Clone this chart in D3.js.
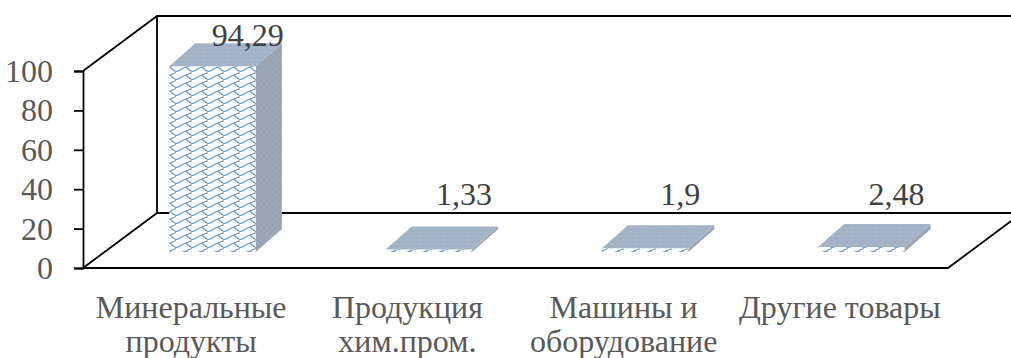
<!DOCTYPE html>
<html>
<head>
<meta charset="utf-8">
<script src="https://cdn.jsdelivr.net/npm/d3@7"></script>
</head>
<body style="margin:0">
<svg id="chart" width="1011" height="358" font-family="Liberation Serif" style="display:block"></svg>
<script>
// Export structure, % of total
const categories = ["Минеральные продукты", "Продукция хим.пром.", "Машины и оборудование", "Другие товары"];
const categoryLines = [["Минеральные", "продукты"], ["Продукция", "хим.пром."], ["Машины и", "оборудование"], ["Другие товары"]];
const values = [94.29, 1.33, 1.9, 2.48];
const tickValues = [0, 20, 40, 60, 80, 100];

const FS = 32;
const svg = d3.select("#chart");

// Front plane of the 3D box
const x0 = 83, x1 = 948, yZero = 268, yTop = 71;
// Full depth of the floor (oblique offset)
const depth = { dx: 74, dy: -55 };
// Bars sit a little behind the front edge and have their own depth
const barFront = { dx: 21.5, dy: -16 };
const barDepth = { dx: 26, dy: -23 };

const x = d3.scaleBand().domain(categories).range([x0, x1]).padding(0);
const y = d3.scaleLinear().domain([0, 100]).range([yZero, yTop]);

const ru = d3.formatLocale({ decimal: ",", thousands: " ", grouping: [3], currency: ["", ""] });
const fmt = ru.format(".4~g");

// ---- fill patterns ----
const defs = svg.append("defs");

const pFront = defs.append("pattern").attr("id", "pFront")
  .attr("patternUnits", "userSpaceOnUse").attr("width", 16).attr("height", 8);
pFront.append("rect").attr("width", 16).attr("height", 8).attr("fill", "#ffffff");
pFront.append("path")
  .attr("d", "M0,7.5 C4,7.5 6,4 10,3 C13,2.2 15,1 16,0.5 M10,3 C12,5 14,7 16,7.5")
  .attr("fill", "none").attr("stroke", "#5d9ad6").attr("stroke-width", 1.1);

const pTop = defs.append("pattern").attr("id", "pTop")
  .attr("patternUnits", "userSpaceOnUse").attr("width", 6).attr("height", 4);
pTop.append("rect").attr("width", 6).attr("height", 4).attr("fill", "#aeb7c2");
pTop.append("path").attr("d", "M0,3.5 L3,0.5 M3,3.5 L6,0.5")
  .attr("stroke", "#7aa6d6").attr("stroke-width", 0.9);

const pSide = defs.append("pattern").attr("id", "pSide")
  .attr("patternUnits", "userSpaceOnUse").attr("width", 6).attr("height", 6);
pSide.append("rect").attr("width", 6).attr("height", 6).attr("fill", "#a3a7ad");
pSide.append("path").attr("d", "M0,6 L6,0 M0,0 L6,6")
  .attr("stroke", "#89a3c4").attr("stroke-width", 1);

// ---- walls and floor ----
const frame = svg.append("g")
  .attr("fill", "none").attr("stroke", "#000").attr("stroke-width", 1.8);

const bx0 = x0 + depth.dx, bx1 = x1 + depth.dx;
const byZero = yZero + depth.dy, byTop = yTop + depth.dy;

frame.append("path").attr("d", [
  // back wall
  `M${bx1},${byTop} L${bx0},${byTop} L${bx0},${byZero} L${bx1},${byZero}`,
  // side wall diagonals
  `M${x0},${yTop} L${bx0},${byTop}`,
  `M${x0},${yZero} L${bx0},${byZero}`,
  // floor front and right edge
  `M${x0},${yZero} L${x1},${yZero} L${bx1},${byZero}`
].join(" "));

// ---- value axis (ticks drawn by d3, labels as plain texts) ----
const axis = svg.append("g")
  .attr("transform", `translate(${x0},0)`)
  .call(d3.axisLeft(y).tickValues(tickValues).tickSize(9).tickFormat(""));
axis.attr("font-family", "Liberation Serif").attr("font-size", FS);
axis.select(".domain").attr("stroke", "#000").attr("stroke-width", 1.8);
axis.selectAll(".tick line").attr("stroke", "#000").attr("stroke-width", 1.8);
axis.selectAll(".tick text").remove();

// all texts of the chart in one flat list
const texts = [];
tickValues.forEach(v => texts.push({ t: String(v), x: x0 - 30, y: y(v) + 11, anchor: "end", fill: "#595959" }));

// ---- bars ----
const bars = svg.append("g");
categories.forEach((c, i) => {
  const v = values[i];
  const bw = x.bandwidth() * 0.4;
  const cx = x(c) + x.bandwidth() / 2 + barFront.dx;
  const l = cx - bw / 2, r = cx + bw / 2;
  const b = y(0) + barFront.dy, t = y(v) + barFront.dy;
  const ddx = barDepth.dx, ddy = barDepth.dy;
  const g = bars.append("g");
  // front face
  g.append("path").attr("d", `M${l},${b} L${r},${b} L${r},${t} L${l},${t} Z`)
    .attr("fill", "url(#pFront)");
  // right side face
  g.append("path").attr("d", `M${r},${b} L${r + ddx},${b + ddy} L${r + ddx},${t + ddy} L${r},${t} Z`)
    .attr("fill", "url(#pSide)");
  // top face
  g.append("path").attr("d", `M${l},${t} L${r},${t} L${r + ddx},${t + ddy} L${l + ddx},${t + ddy} Z`)
    .attr("fill", "url(#pTop)");

  // value label above the bar
  texts.push({ t: fmt(v), x: cx + 35, y: Math.min(t + ddy + 3, byZero - 8), anchor: "middle", fill: "#404040" });

  // category label, one line per text
  categoryLines[i].forEach((line, j) => {
    texts.push({ t: line, x: x(c) + x.bandwidth() / 2, y: 318 + j * 34, anchor: "middle", fill: "#595959" });
  });
});

svg.selectAll("text.lbl").data(texts).join("text")
  .attr("class", "lbl")
  .attr("x", d => d.x).attr("y", d => d.y)
  .attr("text-anchor", d => d.anchor)
  .attr("fill", d => d.fill)
  .attr("font-size", FS)
  .attr("font-family", "Liberation Serif")
  .style("font-family", "'Liberation Serif'")
  .text(d => d.t);
</script>
</body>
</html>
